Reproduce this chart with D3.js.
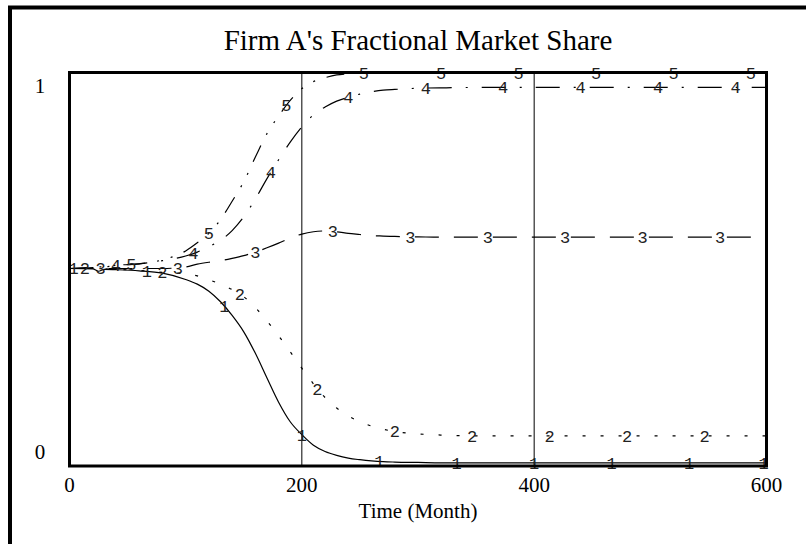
<!DOCTYPE html>
<html>
<head>
<meta charset="utf-8">
<script src="https://cdn.jsdelivr.net/npm/d3@7"></script>
<style>
  body { margin: 0; background: #fff; }
  svg { display: block; }
</style>
</head>
<body>
<div id="chart"></div>
<script>
// Time axis (months) and the five runs of Firm A's share
var months = [0, 20, 25, 30, 40, 60, 80, 100,
  110, 120, 130, 140, 150, 160, 170, 180, 190, 200, 210, 220, 230, 240, 250, 260, 270, 280,
  300, 320, 350, 400, 450, 500, 550, 600];

var share1 = [0.5, 0.499, 0.493, 0.498, 0.497, 0.494, 0.488, 0.472,
  0.46, 0.442, 0.415, 0.38, 0.338, 0.283, 0.22, 0.158, 0.108, 0.075, 0.048, 0.032, 0.022, 0.015, 0.011, 0.008, 0.006, 0.005,
  0.004, 0.003, 0.003, 0.003, 0.003, 0.003, 0.003, 0.003];
var share2 = [0.5, 0.5, 0.5, 0.499, 0.498, 0.495, 0.49, 0.486,
  0.481, 0.471, 0.46, 0.446, 0.428, 0.4, 0.366, 0.328, 0.287, 0.245, 0.205, 0.17, 0.143, 0.123, 0.108, 0.097, 0.089, 0.083,
  0.077, 0.074, 0.072, 0.072, 0.072, 0.072, 0.072, 0.072];
var share3 = [0.5, 0.5, 0.5, 0.5, 0.5, 0.5, 0.5, 0.504,
  0.511, 0.516, 0.52, 0.526, 0.533, 0.542, 0.553, 0.565, 0.578, 0.588, 0.594, 0.596, 0.594, 0.59, 0.587, 0.584, 0.583, 0.582,
  0.581, 0.58, 0.58, 0.58, 0.58, 0.58, 0.58, 0.58];
var share4 = [0.5, 0.502, 0.503, 0.504, 0.508, 0.512, 0.52, 0.532,
  0.542, 0.556, 0.572, 0.597, 0.632, 0.678, 0.73, 0.778, 0.823, 0.862, 0.893, 0.913, 0.928, 0.938, 0.946, 0.952, 0.956, 0.958,
  0.961, 0.962, 0.963, 0.963, 0.963, 0.963, 0.963, 0.963];
var share5 = [0.5, 0.503, 0.504, 0.505, 0.508, 0.512, 0.522, 0.545,
  0.566, 0.59, 0.625, 0.672, 0.722, 0.785, 0.845, 0.89, 0.93, 0.96, 0.978, 0.988, 0.995, 0.998, 1, 1, 1, 1,
  1, 1, 1, 1, 1, 1, 1, 1];

var runs = [share1, share2, share3, share4, share5];
var runNames = ["1", "2", "3", "4", "5"];
var dashes = [null, "3,15", "24,15", "24,14,2,14", "18,12,2,12,2,12"];

// where the number tags sit along each run (months)
var labelOffsets = [0, 13.3, 26.7, 40, 53.3];
var labelStep = 600 / 9;

var xTicks = [0, 200, 400, 600];
var yTicks = [0, 1];
var gridMonths = [200, 400];

var serif = "'Liberation Serif', 'Times New Roman', Times, serif";
var mono = "'Liberation Mono', 'Courier New', monospace";

var width = 806, height = 544;

var svg = d3.select("#chart").append("svg")
  .attr("width", width)
  .attr("height", height);

// outer border (only left and top show in the window)
svg.append("rect")
  .attr("x", 10).attr("y", 7.5)
  .attr("width", 1000).attr("height", 1000)
  .attr("fill", "none")
  .attr("stroke", "#000")
  .attr("stroke-width", 4);

var x = d3.scaleLinear().domain([0, 600]).range([69.5, 766.5]);
var y = d3.scaleLinear().domain([0, 1]).range([464, 73]);

// title
svg.append("text")
  .attr("x", (x(0) + x(600)) / 2)
  .attr("y", 50)
  .attr("text-anchor", "middle")
  .attr("font-family", serif)
  .attr("font-size", 29)
  .text("Firm A's Fractional Market Share");

// grid lines at 200 and 400
svg.selectAll(".grid")
  .data(gridMonths)
  .enter().append("line")
  .attr("x1", d => x(d)).attr("x2", d => x(d))
  .attr("y1", 72).attr("y2", 466)
  .attr("stroke", "#000")
  .attr("stroke-width", 1);

var line = d3.line()
  .x((d, i) => x(months[i]))
  .y(d => y(d))
  .curve(d3.curveMonotoneX);

var paths = svg.selectAll(".run")
  .data(runs)
  .enter().append("path")
  .attr("class", "run")
  .attr("d", line)
  .attr("fill", "none")
  .attr("stroke", "#000")
  .attr("stroke-width", 1.2)
  .attr("stroke-dasharray", (d, i) => dashes[i]);

// find the point on a path at a given x
function pointAtX(node, px) {
  var total = node.getTotalLength();
  var lo = 0, hi = total;
  for (var k = 0; k < 40; k++) {
    var mid = (lo + hi) / 2;
    var p = node.getPointAtLength(mid);
    if (p.x < px) lo = mid; else hi = mid;
  }
  return node.getPointAtLength((lo + hi) / 2);
}

paths.each(function(d, i) {
  var node = this;
  for (var t = labelOffsets[i]; t <= 600.5; t += labelStep) {
    var px = Math.max(x(0) + 4, Math.min(x(600) - 3, x(t)));
    var p = pointAtX(node, px);
    svg.append("text")
      .attr("x", p.x)
      .attr("y", p.y)
      .attr("dy", "0.35em")
      .attr("text-anchor", "middle")
      .attr("font-family", mono)
      .attr("font-size", 17)
      .attr("fill", "#222")
      .text(runNames[i]);
  }
});

// plot frame
svg.append("rect")
  .attr("x", x(0)).attr("y", 72.5)
  .attr("width", x(600) - x(0)).attr("height", 466 - 72.5)
  .attr("fill", "none")
  .attr("stroke", "#000")
  .attr("stroke-width", 3);

// tick labels
svg.selectAll(".xtick")
  .data(xTicks)
  .enter().append("text")
  .attr("x", d => x(d))
  .attr("y", 492)
  .attr("text-anchor", "middle")
  .attr("font-family", serif)
  .attr("font-size", 21)
  .text(d => d);

svg.selectAll(".ytick")
  .data(yTicks)
  .enter().append("text")
  .attr("x", 40)
  .attr("y", d => d === 1 ? y(d) + 20 : y(d) - 5)
  .attr("text-anchor", "middle")
  .attr("font-family", serif)
  .attr("font-size", 21)
  .text(d => d);

svg.append("text")
  .attr("x", (x(0) + x(600)) / 2)
  .attr("y", 518)
  .attr("text-anchor", "middle")
  .attr("font-family", serif)
  .attr("font-size", 21)
  .text("Time (Month)");
</script>
</body>
</html>
